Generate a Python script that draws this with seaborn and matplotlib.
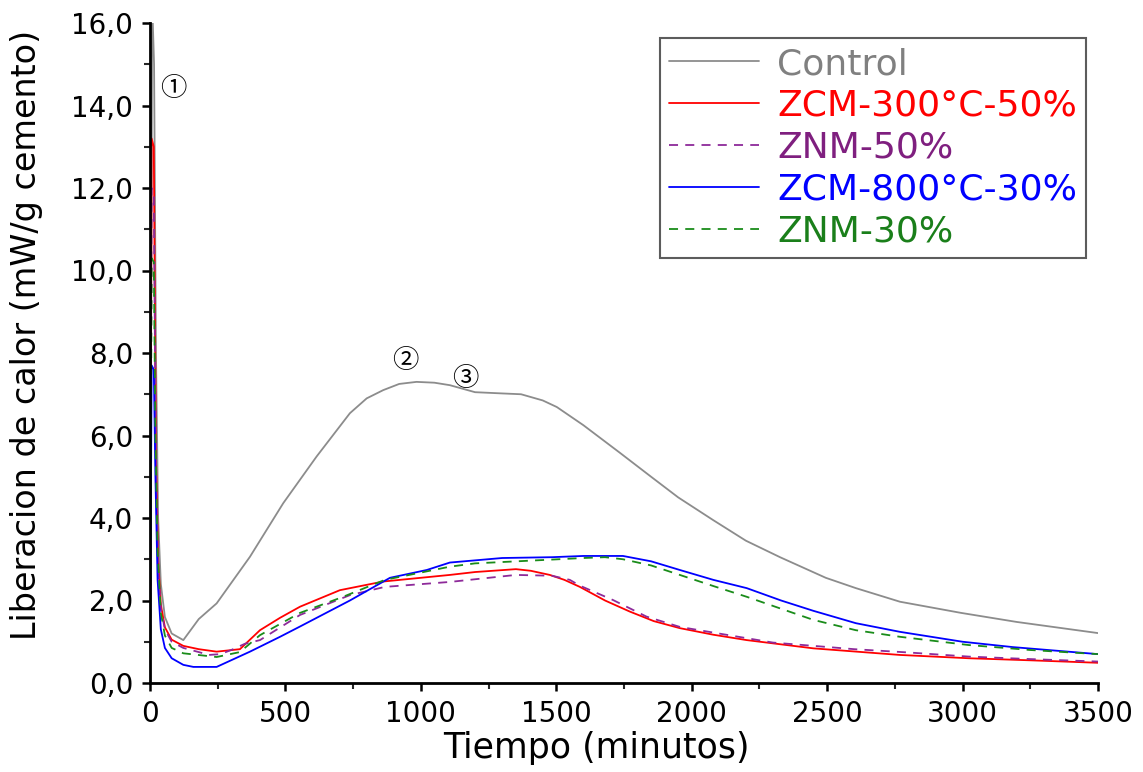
import numpy as np
import pandas as pd
import matplotlib
matplotlib.use("Agg")
import matplotlib.pyplot as plt
from matplotlib.ticker import MultipleLocator, FuncFormatter
import seaborn as sns

# ---------------- data ----------------
t_control = [0, 8, 15, 22, 30, 40, 55, 80, 123, 180, 246, 369, 492, 615, 738, 800, 861, 920,
             984, 1050, 1107, 1200, 1300, 1370, 1450, 1502, 1600, 1735, 1850, 1950, 2079,
             2200, 2326, 2495, 2606, 2769, 2994, 3200, 3500]
v_control = [0.0, 16.5, 15.0, 8.0, 4.0, 2.4, 1.6, 1.2, 1.04, 1.55, 1.93, 3.06, 4.36, 5.49,
             6.54, 6.9, 7.10, 7.25, 7.30, 7.28, 7.22, 7.05, 7.02, 7.0, 6.85, 6.69, 6.25, 5.58,
             5.0, 4.5, 3.95, 3.45, 3.05, 2.55, 2.3, 1.97, 1.7, 1.48, 1.21]

t_zcm300 = [0, 6, 14, 22, 30, 40, 55, 80, 123, 180, 246, 332, 406, 480, 554, 701, 861, 1107,
            1200, 1351, 1406, 1476, 1530, 1587, 1680, 1772, 1860, 1956, 2080, 2203, 2449,
            2769, 3023, 3250, 3500]
v_zcm300 = [0.0, 13.2, 13.0, 5.5, 3.0, 1.9, 1.35, 1.05, 0.9, 0.82, 0.76, 0.82, 1.28, 1.58,
            1.85, 2.25, 2.46, 2.62, 2.69, 2.76, 2.72, 2.62, 2.5, 2.33, 2.0, 1.73, 1.5, 1.33,
            1.17, 1.04, 0.84, 0.68, 0.6, 0.55, 0.49]

t_znm50 = [0, 6, 14, 22, 30, 40, 55, 80, 123, 180, 217, 260, 300, 350, 406, 554, 738, 867,
           1107, 1351, 1484, 1550, 1587, 1710, 1833, 1956, 2100, 2300, 2600, 2800, 3023,
           3250, 3500]
v_znm50 = [0.0, 12.0, 11.8, 5.0, 2.8, 1.8, 1.3, 1.0, 0.85, 0.75, 0.68, 0.7, 0.8, 0.95, 1.04,
           1.65, 2.13, 2.33, 2.45, 2.62, 2.6, 2.5, 2.36, 2.01, 1.61, 1.36, 1.2, 0.98, 0.82,
           0.74, 0.64, 0.58, 0.52]

t_zcm800 = [0, 6, 14, 20, 28, 40, 55, 80, 123, 160, 246, 369, 480, 554, 738, 886, 1022, 1107,
            1300, 1484, 1600, 1746, 1850, 1956, 2080, 2203, 2330, 2449, 2606, 2769, 3000,
            3186, 3500]
v_zcm800 = [0.0, 7.7, 7.6, 5.0, 2.5, 1.3, 0.85, 0.6, 0.44, 0.39, 0.39, 0.76, 1.12, 1.37,
            2.0, 2.55, 2.74, 2.92, 3.03, 3.05, 3.08, 3.08, 2.95, 2.74, 2.5, 2.3, 2.0, 1.75,
            1.45, 1.24, 1.0, 0.87, 0.7]

t_znm30 = [0, 6, 14, 20, 28, 40, 55, 80, 123, 246, 332, 406, 554, 713, 867, 1107, 1200, 1447,
           1600, 1680, 1746, 1850, 1956, 2080, 2203, 2330, 2449, 2606, 2769, 3023, 3250, 3500]
v_znm30 = [0.0, 10.3, 10.2, 6.0, 3.2, 1.7, 1.15, 0.85, 0.72, 0.63, 0.75, 1.16, 1.7, 2.09,
           2.5, 2.82, 2.9, 2.98, 3.03, 3.05, 3.0, 2.85, 2.62, 2.35, 2.09, 1.8, 1.53, 1.28,
           1.12, 0.92, 0.8, 0.7]

labels = ["Control", "ZCM-300°C-50%", "ZNM-50%", "ZCM-800°C-30%", "ZNM-30%"]
colors = ["#8c8c8c", "#ff0000", "#8e2a9a", "#0000ff", "#1a8c1a"]
text_colors = ["#808080", "#ff0000", "#7f1f7f", "#0000ff", "#1a7f1a"]
dashed = [False, False, True, False, True]

x_ticks = [0, 500, 1000, 1500, 2000, 2500, 3000, 3500]
y_ticks = [0, 2, 4, 6, 8, 10, 12, 14, 16]

annot_text = ["①", "②", "③"]
annot_x = [85, 941, 1163]
annot_y = [14.4, 7.83, 7.39]

# ---------------- plot ----------------
sns.set_style("ticks")
plt.rcParams["font.family"] = ["DejaVu Sans", "Noto Sans CJK JP"]

fig = plt.figure(figsize=(11.43, 7.72), dpi=100)
ax = fig.add_axes([150 / 1143, 1 - 683 / 772, (1098 - 150) / 1143, (683 - 23) / 772])

series = [(t_control, v_control), (t_zcm300, v_zcm300), (t_znm50, v_znm50),
          (t_zcm800, v_zcm800), (t_znm30, v_znm30)]

handles = []
for (t, v), lab, col, d in zip(series, labels, colors, dashed):
    df = pd.DataFrame({"t": t, "v": v})
    sns.lineplot(data=df, x="t", y="v", ax=ax, color=col, lw=1.3, estimator=None,
                 sort=False, label=lab)
    line = ax.get_lines()[-1]
    if d:
        line.set_linestyle((0, (5, 4)))
    handles.append(line)

ax.set_xlim(0, 3500)
ax.set_ylim(0, 16)
ax.set_xticks(x_ticks)
ax.set_yticks(y_ticks)
ax.xaxis.set_minor_locator(MultipleLocator(250))
ax.yaxis.set_minor_locator(MultipleLocator(1))
ax.yaxis.set_major_formatter(FuncFormatter(lambda v, p: f"{v:.1f}".replace(".", ",")))
ax.xaxis.set_major_formatter(FuncFormatter(lambda v, p: f"{int(v)}"))

for s in ["top", "right"]:
    ax.spines[s].set_visible(False)
for s in ["left", "bottom"]:
    ax.spines[s].set_linewidth(2.0)
    ax.spines[s].set_color("black")

ax.tick_params(axis="both", which="major", direction="out", length=6, width=1.8,
               labelsize=20, pad=6, colors="black")
ax.tick_params(axis="both", which="minor", direction="out", length=4, width=1.5)

ax.set_xlabel("Tiempo (minutos)", fontsize=25, color="black")
ax.set_ylabel("Liberacion de calor (mW/g cemento)", fontsize=24, color="black")
ax.xaxis.set_label_coords((596 - 150) / 948, -0.072)
ax.yaxis.set_label_coords(-0.113, (683 - 335) / 660)

for txt, xx, yy in zip(annot_text, annot_x, annot_y):
    ax.text(xx, yy, txt, fontsize=19, ha="center", va="center", color="black",
            family=["Noto Sans CJK JP", "DejaVu Sans"])

leg = ax.legend(handles=handles, labels=labels, loc="upper left",
                bbox_to_anchor=((660 - 150) / 948, (683 - 38) / 660),
                fontsize=26, frameon=True, fancybox=False, shadow=False,
                handlelength=2.5, handletextpad=0.5, labelspacing=0.22,
                borderpad=0.25, borderaxespad=0)
leg.get_frame().set_edgecolor("#333333")
leg.get_frame().set_linewidth(1.5)
for tx, c in zip(leg.get_texts(), text_colors):
    tx.set_color(c)

fig.savefig("out.png", dpi=100)
